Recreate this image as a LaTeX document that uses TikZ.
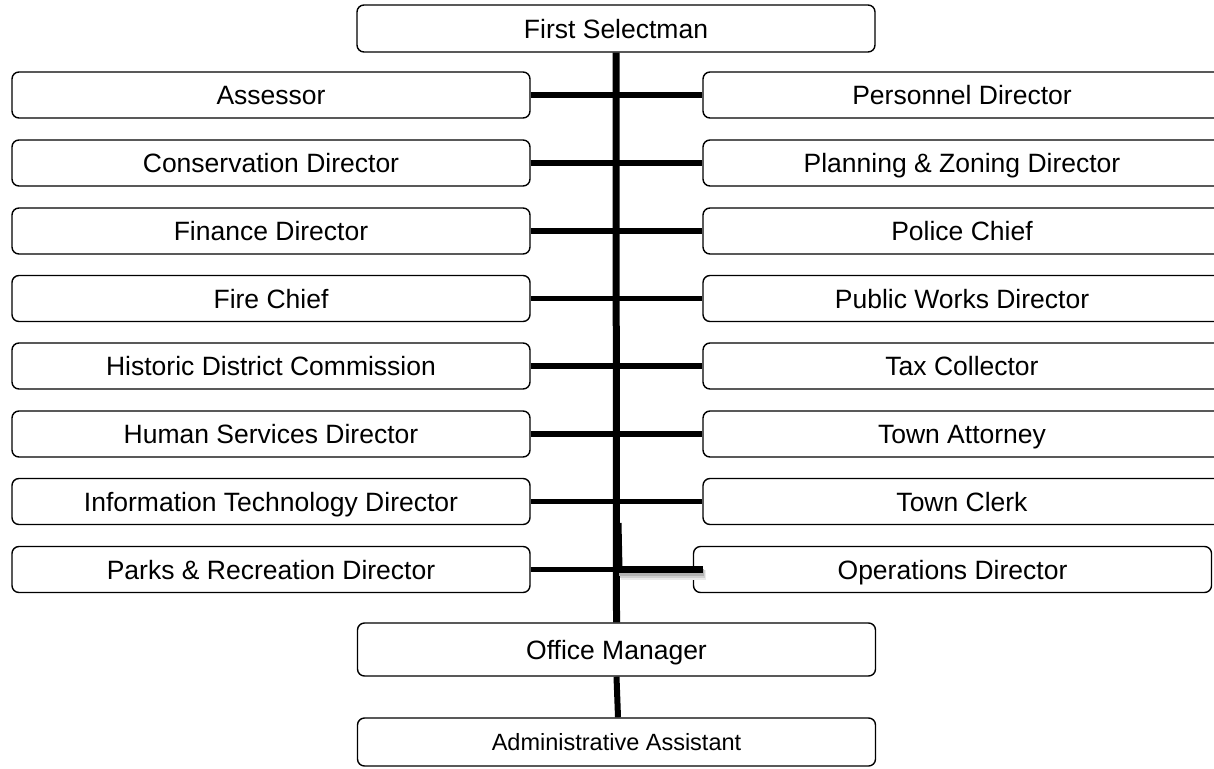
\documentclass[tikz,border=0pt]{standalone}
\usepackage{fontspec}
\setmainfont{Liberation Sans}
\begin{document}
\begin{tikzpicture}[x=1pt,y=-1pt,
  box/.style={draw, line width=1.4pt, rounded corners=7pt, minimum width=518pt, minimum height=46pt, inner sep=0pt, text height=19pt, text depth=0pt, font=\fontsize{26.5}{30}\selectfont},
  conn/.style={line width=5.5pt},
  trunk/.style={line width=7pt}]
\useasboundingbox (0,0) rectangle (1214,768);
\fill[white] (0,0) rectangle (1214,768);
% top
\node[box, minimum height=47pt] (top) at (616,28.5) {First Selectman};
% left column
\node[box] (l1) at (271,95) {Assessor};
\node[box] (l2) at (271,163) {Conservation Director};
\node[box] (l3) at (271,231) {Finance Director};
\node[box] (l4) at (271,298.5) {Fire Chief};
\node[box] (l5) at (271,366) {Historic District Commission};
\node[box] (l6) at (271,434) {Human Services Director};
\node[box] (l7) at (271,501.5) {Information Technology Director};
\node[box] (l8) at (271,569.5) {Parks \& Recreation Director};
% right column
\node[box] (r1) at (962,95) {Personnel Director};
\node[box] (r2) at (962,163) {Planning \& Zoning Director};
\node[box] (r3) at (962,231) {Police Chief};
\node[box] (r4) at (962,298.5) {Public Works Director};
\node[box] (r5) at (962,366) {Tax Collector};
\node[box] (r6) at (962,434) {Town Attorney};
\node[box] (r7) at (962,501.5) {Town Clerk};
\node[box] (r8) at (952.5,569.5) {Operations Director};
% bottom
\node[box, minimum height=53pt] (om) at (616.5,649.5) {Office Manager};
\node[box, minimum height=48pt, text height=17pt, font=\fontsize{23.5}{27}\selectfont] (aa) at (616.5,742) {Administrative Assistant};
% trunk
\coordinate (tb) at (616,523);
\coordinate (j8) at (617,569.5);
\draw[trunk] (top.south) -- (om.north);
\draw[line width=3pt] ([shift={(4,0)}]tb) -- ([shift={(4,0)}]j8);
\draw[line width=6pt] (om.south) -- ([shift={(1.5,0)}]aa.north);
% branches
\draw[conn] (l1.east) -- (r1.west);
\draw[conn] (l2.east) -- (r2.west);
\draw[conn] (l3.east) -- (r3.west);
\draw[conn] (l4.east) -- (r4.west);
\draw[conn] (l5.east) -- (r5.west);
\draw[conn] (l6.east) -- (r6.west);
\draw[conn] (l7.east) -- (r7.west);
\draw[conn] (l8.east) -- (j8);
% operations connector with soft shadow
\draw[line width=10pt, black!8] ([shift={(4,5)}]j8) -- ([shift={(13,5)}]r8.west);
\draw[line width=8pt, black!18] ([shift={(3,4)}]j8) -- ([shift={(12,4)}]r8.west);
\draw[line width=7pt, black!30] ([shift={(2,2.5)}]j8) -- ([shift={(11,2.5)}]r8.west);
\draw[line width=7pt] (j8) -- ([shift={(10,0)}]r8.west);
\end{tikzpicture}
\end{document}
